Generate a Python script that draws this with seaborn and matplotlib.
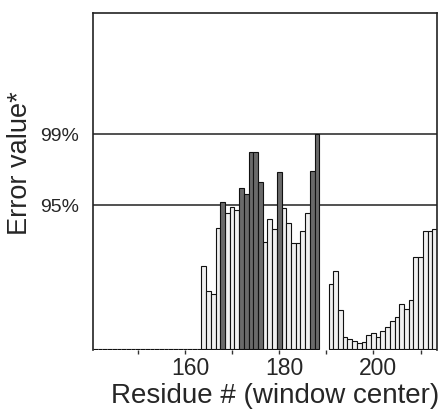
import matplotlib
matplotlib.use("Agg")
import matplotlib.pyplot as plt
import matplotlib.transforms as mtransforms
import seaborn as sns
import pandas as pd
import numpy as np

# Error values per residue window (arbitrary score units)
residues_empty = list(range(141, 164))
errors_empty = [0] * len(residues_empty)

residues_a = list(range(164, 189))
errors_a = [83, 58, 55, 121, 147, 136, 142, 139, 161, 155, 197, 197, 167,
            107, 130, 120, 177, 141, 126, 106, 106, 118, 136, 178, 215]
dark_a = [0, 0, 0, 0, 1, 0, 0, 0, 1, 1, 1, 1, 1,
          0, 0, 0, 1, 0, 0, 0, 0, 0, 0, 1, 1]

residues_b = list(range(191, 214))
errors_b = [65, 78, 39, 12, 10, 8, 6, 7, 14, 16, 12, 18, 22, 28, 32,
            45, 40, 49, 92, 92, 118, 118, 120]

# significance thresholds on the same scale
thresholds = [144, 215]
threshold_labels = ["95%", "99%"]

df = pd.DataFrame({
    "residue": residues_empty + residues_a + residues_b,
    "error": errors_empty + errors_a + errors_b,
    "shade": ["light"] * len(residues_empty)
             + ["dark" if d else "light" for d in dark_a]
             + ["light"] * len(residues_b),
})

sns.set_style("white")
plt.rcParams["font.family"] = ["Liberation Sans", "DejaVu Sans"]

fig = plt.figure(figsize=(4.43, 4.09), dpi=100)
ax = fig.add_axes([0.21, 0.1443, 0.7765, 0.8237])

for t in thresholds:
    ax.axhline(t, color="#333333", linewidth=1.2, zorder=0)

sns.barplot(data=df, x="residue", y="error", hue="shade",
            palette={"light": "#f0f0f0", "dark": "#6a6a6a"},
            native_scale=True, dodge=False, width=1, errorbar=None,
            edgecolor="#111111", linewidth=0.8, legend=False, ax=ax, zorder=2)

ax.set_xlim(140.5, 213.5)
ax.set_ylim(-1, 336)

ax.set_xticks([160, 180, 200])
ax.set_xticklabels(["160", "180", "200"], fontsize=16.5)
ax.set_xticks([150, 170, 190, 210], minor=True)
ax.tick_params(axis="x", which="both", direction="out", length=3, width=1,
               bottom=True, pad=2, color="#333333")
# labels sit a little right of their ticks in the original
shift = mtransforms.ScaledTranslation(5 / 100, 0, fig.dpi_scale_trans)
for lbl in ax.get_xticklabels():
    lbl.set_transform(lbl.get_transform() + shift)

ax.set_yticks(thresholds)
ax.set_yticklabels(threshold_labels, fontsize=14)
ax.tick_params(axis="y", length=0, pad=10)

ax.set_xlabel("Residue # (window center)", fontsize=20)
ax.xaxis.set_label_coords(0.53, -0.097, transform=ax.transAxes)
ax.xaxis.label.set_va("top")
ax.set_ylabel("Error value*", fontsize=19.5)
ax.yaxis.set_label_coords(-0.175, 0.555)

for side in ["left", "top", "right"]:
    ax.spines[side].set_color("#222222")
    ax.spines[side].set_linewidth(1.2)
ax.spines["bottom"].set_visible(False)

fig.savefig("out.png", dpi=100)
